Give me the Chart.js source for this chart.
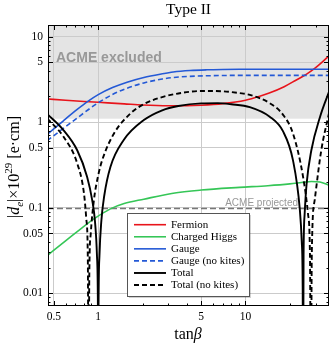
<!DOCTYPE html>
<html>
<head>
<meta charset="utf-8">
<script src="https://cdn.jsdelivr.net/npm/chart.js@4.4.1/dist/chart.umd.min.js"></script>
<style>
  html, body { margin: 0; padding: 0; background: #fff; }
</style>
</head>
<body>
<canvas id="chart" width="332" height="346"></canvas>
<script>
// axis ticks
const xTicks = [0.5, 1, 5, 10];
const yTicks = [0.01, 0.05, 0.1, 0.5, 1, 5, 10];
const acmeExcluded = 1.1;
const acmeProjected = 0.1;

// Fermion
const fermionTan = [0.45, 0.6, 0.8, 1, 1.5, 2, 3, 4, 5, 7, 10, 12.5, 14.5, 18.3, 22, 26, 29.5, 33, 37];
const fermionD   = [1.87, 1.81, 1.75, 1.71, 1.64, 1.59, 1.56, 1.56, 1.58, 1.65, 1.81, 2.01, 2.19, 2.6, 3.1, 3.65, 4.25, 5.0, 6.0];

// Charged Higgs
const higgsTan = [0.45, 0.6, 0.72, 0.935, 1.21, 1.5, 2.04, 3.23, 5, 9.1, 14.2, 20, 24, 28, 32, 37];
const higgsD   = [0.0275, 0.041, 0.0525, 0.074, 0.097, 0.112, 0.126, 0.148, 0.161, 0.173, 0.181, 0.19, 0.197, 0.203, 0.2, 0.183];

// Gauge, with and without kites
const gaugeTan  = [0.45, 0.58, 0.72, 0.85, 1, 1.25, 1.57, 2.04, 2.72, 3.23, 4.2, 5.44, 7, 9.1, 14, 25, 37];
const gaugeD    = [0.72, 1.04, 1.41, 1.75, 2.1, 2.54, 2.94, 3.34, 3.68, 3.86, 4.02, 4.1, 4.14, 4.16, 4.17, 4.17, 4.17];
const gaugeNkD  = [0.61, 0.847, 1.12, 1.39, 1.69, 2.11, 2.5, 2.88, 3.2, 3.33, 3.44, 3.49, 3.52, 3.53, 3.53, 3.53, 3.53];

// Total
const totalTan = [0.45, 0.58, 0.72, 0.84, 0.91, 0.95, 0.98, 0.995, 1.0, 1.005, 1.02, 1.05, 1.1, 1.21, 1.49, 2.04, 2.72, 3.5, 5, 6.5, 8, 10.7, 14.6, 18, 21, 23.4, 24.1, 24.45, 24.6, 24.8, 25.2, 26, 28, 32.1, 37];
const totalD   = [1.25, 0.81, 0.47, 0.231, 0.123, 0.07, 0.028, 0.007, 0.0005, 0.007, 0.028, 0.07, 0.14, 0.3, 0.62, 1.06, 1.38, 1.55, 1.66, 1.67, 1.62, 1.5, 1.16, 0.78, 0.36, 0.094, 0.04, 0.012, 0.0005, 0.028, 0.083, 0.19, 0.47, 1.16, 2.3];

// Total (no kites)
const totalNkTan = [0.45, 0.58, 0.72, 0.8, 0.83, 0.85, 0.86, 0.87, 0.89, 0.935, 1.0, 1.065, 1.28, 1.66, 2.04, 2.72, 3.5, 5, 7, 9.1, 10.7, 14.6, 18, 21, 24.6, 26.6, 27.4, 27.8, 28.2, 29.5, 32.7, 37];
const totalNkD   = [1.11, 0.68, 0.33, 0.148, 0.074, 0.025, 0.0005, 0.017, 0.05, 0.123, 0.24, 0.362, 0.74, 1.27, 1.63, 1.97, 2.17, 2.32, 2.3, 2.19, 2.09, 1.67, 1.22, 0.74, 0.23, 0.084, 0.028, 0.0005, 0.029, 0.123, 0.47, 1.3];

const RED = '#e8141b', GREEN = '#35c657', BLUE = '#2459d6', BLACK = '#000';
const SERIF = '"Liberation Serif", "DejaVu Serif", serif';
const SANS = '"Liberation Sans", Arial, sans-serif';

function pts(xs, ys) {
  return xs.map((x, i) => ({ x: x, y: ys[i] }));
}

function line(label, xs, ys, color, dashed, width, order) {
  return {
    label: label,
    data: pts(xs, ys),
    borderColor: color,
    borderWidth: width,
    borderDash: dashed ? [5, 3] : [],
    pointRadius: 0,
    fill: false,
    cubicInterpolationMode: 'monotone',
    order: order
  };
}

const datasets = [
  line('Fermion', fermionTan, fermionD, RED, false, 1.6, 3),
  line('Charged Higgs', higgsTan, higgsD, GREEN, false, 1.6, 3),
  line('Gauge', gaugeTan, gaugeD, BLUE, false, 1.6, 2),
  line('Gauge (no kites)', gaugeTan, gaugeNkD, BLUE, true, 1.6, 2),
  line('Total', totalTan, totalD, BLACK, false, 1.9, 1),
  line('Total (no kites)', totalNkTan, totalNkD, BLACK, true, 1.9, 1)
];

function logValues(min, max) {
  const out = [];
  for (let e = Math.floor(Math.log10(min)); e <= Math.ceil(Math.log10(max)); e++) {
    for (let k = 1; k <= 9; k++) {
      const v = k * Math.pow(10, e);
      if (v >= min && v <= max) out.push(v);
    }
  }
  return out;
}
function isMajor(v, list) {
  return list.some(t => Math.abs(v / t - 1) < 1e-6);
}

function drawParts(ctx, parts, x, y) {
  let w = 0;
  parts.forEach(p => { ctx.font = p.font; w += ctx.measureText(p.text).width; });
  let cx = x - w / 2;
  parts.forEach(p => {
    ctx.font = p.font;
    ctx.fillText(p.text, cx, y + (p.dy || 0));
    cx += ctx.measureText(p.text).width;
  });
}

// gray band, projected line, texts
const backgroundPlugin = {
  id: 'acme',
  beforeDraw(chart) {
    const { ctx, chartArea: a, scales: { y } } = chart;
    const yb = y.getPixelForValue(acmeExcluded);
    ctx.save();
    ctx.fillStyle = '#e4e4e4';
    ctx.fillRect(a.left, a.top, a.right - a.left, yb - a.top);
    ctx.restore();
  },
  beforeDatasetsDraw(chart) {
    const { ctx, chartArea: a, scales: { y } } = chart;
    const yp = Math.round(y.getPixelForValue(acmeProjected)) + 0.5;
    ctx.save();
    ctx.strokeStyle = '#777';
    ctx.lineWidth = 1.5;
    ctx.setLineDash([6, 3]);
    ctx.beginPath();
    ctx.moveTo(a.left, yp);
    ctx.lineTo(a.right, yp);
    ctx.stroke();
    ctx.setLineDash([]);

    ctx.fillStyle = '#989898';
    ctx.font = 'bold 14px ' + SANS;
    ctx.textBaseline = 'alphabetic';
    ctx.textAlign = 'left';
    ctx.fillText('ACME excluded', 56, 61.5);

    ctx.font = '10px ' + SANS;
    ctx.textAlign = 'right';
    ctx.fillText('ACME projected', 298, 205.5);
    ctx.restore();
  }
};

// frame with inward ticks, legend, titles
const framePlugin = {
  id: 'frame',
  afterDraw(chart) {
    const { ctx, chartArea: a, scales: { x, y } } = chart;
    ctx.save();
    ctx.strokeStyle = '#000';
    ctx.lineWidth = 1;
    ctx.strokeRect(a.left + 0.5, a.top + 0.5, a.right - a.left - 1, a.bottom - a.top - 1);

    ctx.beginPath();
    logValues(x.min, x.max).forEach(v => {
      const px = Math.round(x.getPixelForValue(v)) + 0.5;
      const len = isMajor(v, xTicks) ? 5 : 2.5;
      ctx.moveTo(px, a.bottom); ctx.lineTo(px, a.bottom - len);
      ctx.moveTo(px, a.top); ctx.lineTo(px, a.top + len);
    });
    logValues(y.min, y.max).forEach(v => {
      const py = Math.round(y.getPixelForValue(v)) + 0.5;
      const len = isMajor(v, yTicks) ? 5 : 2.5;
      ctx.moveTo(a.left, py); ctx.lineTo(a.left + len, py);
      ctx.moveTo(a.right, py); ctx.lineTo(a.right - len, py);
    });
    ctx.stroke();

    // legend
    const lx = 127.5, ly = 213.5, lw = 122, lh = 83;
    ctx.fillStyle = 'rgba(0,0,0,0.18)';
    ctx.fillRect(lx + 1.5, ly + 1.5, lw, lh);
    ctx.fillStyle = '#fff';
    ctx.fillRect(lx, ly, lw, lh);
    ctx.strokeStyle = '#555';
    ctx.strokeRect(lx, ly, lw, lh);
    ctx.font = '11px ' + SERIF;
    ctx.textBaseline = 'middle';
    ctx.textAlign = 'left';
    chart.data.datasets.forEach((ds, i) => {
      const ry = 224.7 + i * 12.07;
      ctx.strokeStyle = ds.borderColor;
      ctx.lineWidth = ds.borderWidth;
      ctx.setLineDash(ds.borderDash);
      ctx.beginPath();
      ctx.moveTo(134, ry); ctx.lineTo(166, ry);
      ctx.stroke();
      ctx.setLineDash([]);
      ctx.fillStyle = '#000';
      ctx.fillText(ds.label, 171, ry + 0.5);
    });

    // title
    ctx.fillStyle = '#000';
    ctx.textBaseline = 'alphabetic';
    ctx.textAlign = 'center';
    ctx.font = '15.5px ' + SERIF;
    ctx.fillText('Type II', (a.left + a.right) / 2, 13.5);

    // x title
    ctx.textAlign = 'left';
    drawParts(ctx, [
      { text: 'tan', font: '16px ' + SERIF },
      { text: 'β', font: 'italic 16px ' + SERIF }
    ], 188, 339);

    // y title
    ctx.translate(19, 167);
    ctx.rotate(-Math.PI / 2);
    drawParts(ctx, [
      { text: '|', font: '16px ' + SERIF },
      { text: 'd', font: 'italic 16px ' + SERIF },
      { text: 'e', font: 'italic 11px ' + SERIF, dy: 3.5 },
      { text: '|×10', font: '16px ' + SERIF },
      { text: '29', font: '11px ' + SERIF, dy: -7 },
      { text: ' [e·cm]', font: '16px ' + SERIF }
    ], 0, 0);
    ctx.restore();
  }
};

const tickFont = { family: SERIF, size: 11.5 };

new Chart(document.getElementById('chart'), {
  type: 'line',
  data: { datasets: datasets },
  options: {
    responsive: false,
    animation: false,
    layout: { padding: { left: 0, top: 25, right: 3, bottom: 0 } },
    plugins: { legend: { display: false }, tooltip: { enabled: false }, title: { display: false } },
    scales: {
      x: {
        type: 'logarithmic',
        min: 0.456,
        max: 36.9,
        bounds: 'data',
        afterBuildTicks: s => { s.ticks = xTicks.map(v => ({ value: v })); },
        afterFit: s => { s.height = 40; },
        ticks: { autoSkip: false, maxRotation: 0, color: '#000', font: tickFont, padding: 4, callback: v => String(v) },
        grid: { color: '#cbcbcb', lineWidth: 1, drawTicks: false },
        border: { display: false }
      },
      y: {
        type: 'logarithmic',
        min: 0.0071,
        max: 13.7,
        bounds: 'data',
        afterBuildTicks: s => { s.ticks = yTicks.map(v => ({ value: v })); },
        afterFit: s => { s.width = 48; },
        ticks: { autoSkip: false, color: '#000', font: tickFont, padding: 5, callback: v => String(v) },
        grid: { color: '#cbcbcb', lineWidth: 1, drawTicks: false },
        border: { display: false }
      }
    }
  },
  plugins: [backgroundPlugin, framePlugin]
});
</script>
</body>
</html>
